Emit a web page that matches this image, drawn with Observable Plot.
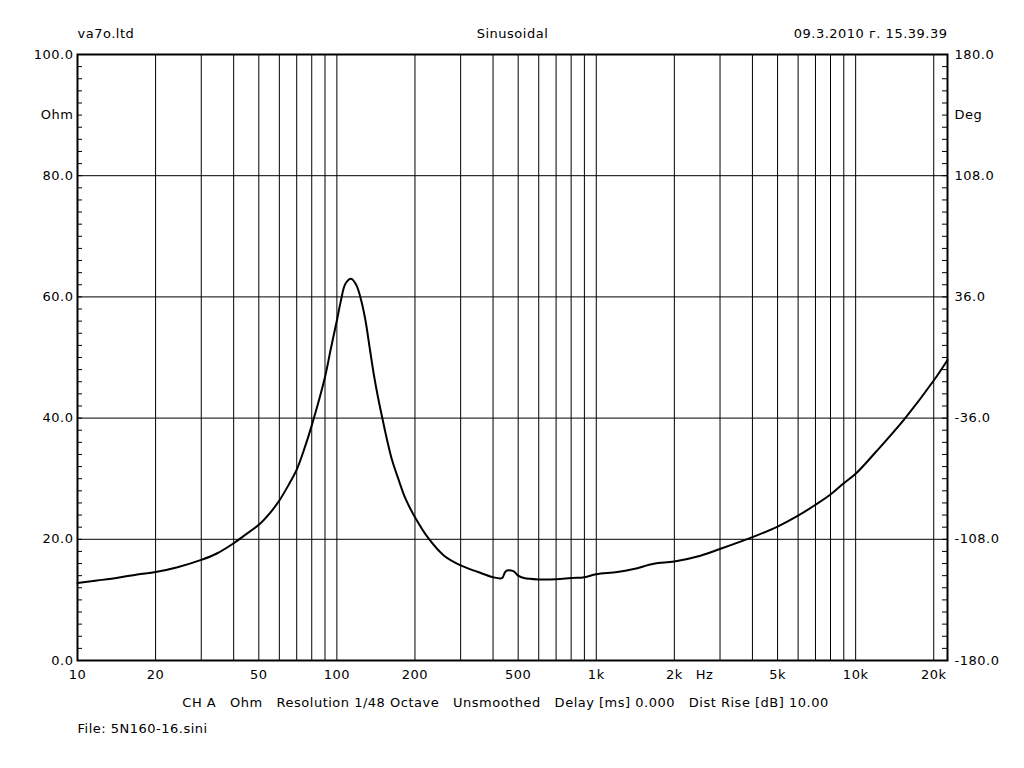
<!DOCTYPE html>
<html><head><meta charset="utf-8">
<script src="https://cdn.jsdelivr.net/npm/d3@7"></script>
<script src="https://cdn.jsdelivr.net/npm/@observablehq/plot@0.6"></script>
<style>
body{margin:0;background:#fff;}
svg text{white-space:pre;letter-spacing:0.5px;}
</style></head><body><div id="chart"></div>
<script>
const freqHz = [10, 11.9, 14.3, 17, 20, 24.3, 30, 34.6, 40, 43.9, 50, 55.6, 60, 65, 70, 75, 80, 90, 94.5, 100, 103.3, 108, 113.5, 119, 124.1, 128.9, 134, 138.8, 143.8, 149.5, 156.3, 163.4, 173.4, 183.9, 200, 226, 259, 300, 350, 400, 433, 445, 453, 470, 481, 492, 500, 526, 600, 700, 800, 900, 1000, 1204, 1395, 1666, 2000, 2522, 3000, 4000, 5000, 6000, 7000, 8000, 9000, 10000, 12100, 15560, 20000, 22600];
const impedanceOhm = [12.8, 13.2, 13.65, 14.2, 14.6, 15.4, 16.6, 17.7, 19.35, 20.6, 22.4, 24.5, 26.4, 28.9, 31.5, 35.0, 38.8, 46.8, 51.2, 56.1, 59.1, 62.2, 63.0, 61.9, 59.4, 56.1, 51.4, 47.2, 43.6, 40.1, 36.3, 33.0, 29.7, 26.7, 23.65, 20.1, 17.3, 15.7, 14.6, 13.75, 13.6, 14.6, 14.85, 14.85, 14.7, 14.3, 14.0, 13.6, 13.37, 13.4, 13.6, 13.75, 14.25, 14.6, 15.1, 15.95, 16.35, 17.3, 18.4, 20.35, 22.1, 23.9, 25.7, 27.4, 29.25, 30.8, 34.65, 40.05, 46.2, 49.6];
const gridFreqs = [20,30,40,50,60,70,80,90,100,200,300,400,500,600,700,800,900,1000,2000,3000,4000,5000,6000,7000,8000,9000,10000,20000];
const xTickValues = [10,20,50,100,200,500,1000,2000,2614,5000,10000,20000];
const xTickLabels = ["10","20","50","100","200","500","1k","2k","Hz","5k","10k","20k"];
const yTickValues = [0,20,40,60,80,100];
const yUnitPosition = 90;
const leftUnit = "Ohm";
const rightUnit = "Deg";
const hGrid = [20,40,60,80];
const minorTicks = d3.range(0, 101, 2);
const headerLeft = "va7o.ltd";
const headerCenter = "Sinusoidal";
const headerRight = "09.3.2010 г. 15.39.39";
const footerInfo = "CH A   Ohm   Resolution 1/48 Octave   Unsmoothed   Delay [ms] 0.000   Dist Rise [dB] 10.00";
const footerFile = "File: 5N160-16.sini";

const data = freqHz.map((f, i) => ({f, z: impedanceOhm[i]}));
const xLabels = xTickValues.map((v, i) => ({v, label: xTickLabels[i]}));

const plot = Plot.plot({
  width: 1024, height: 768,
  marginLeft: 77, marginRight: 77, marginTop: 54, marginBottom: 108,
  style: {fontFamily: "DejaVu Sans", fontSize: "13px", background: "white", color: "black"},
  x: {type: "log", domain: [10, 22600], axis: null},
  y: {domain: [0, 100]},
  marks: [
    Plot.ruleX(gridFreqs, {stroke: "black", strokeWidth: 1}),
    Plot.ruleY(hGrid, {stroke: "black", strokeWidth: 1}),
    Plot.tickY(minorTicks, {y: d => d, insetRight: 865, stroke: "black"}),
    Plot.tickY(minorTicks, {y: d => d, insetLeft: 865, stroke: "black"}),
    Plot.line(data, {x: "f", y: "z", stroke: "black", strokeWidth: 2, curve: "catmull-rom"}),
    Plot.frame({stroke: "black", strokeWidth: 2}),
    Plot.text(xLabels, {x: "v", text: "label", frameAnchor: "bottom", dy: 18, fill: "black"}),
    Plot.axisY({anchor: "left", ticks: [...yTickValues, yUnitPosition], tickFormat: d => d === yUnitPosition ? leftUnit : d.toFixed(1), tickSize: 0, tickPadding: 4, label: null}),
    Plot.axisY({anchor: "right", ticks: [...yTickValues, yUnitPosition], tickFormat: d => d === yUnitPosition ? rightUnit : (d * 3.6 - 180).toFixed(1), tickSize: 0, tickPadding: 7, label: null}),
    Plot.text([headerLeft], {text: d => d, frameAnchor: "top-left", textAnchor: "start", dy: -26}),
    Plot.text([headerCenter], {text: d => d, frameAnchor: "top", dy: -26}),
    Plot.text([headerRight], {text: d => d, frameAnchor: "top-right", textAnchor: "end", dy: -26}),
    Plot.text([footerInfo], {text: d => d, frameAnchor: "bottom", dx: -7, dy: 46}),
    Plot.text([footerFile], {text: d => d, frameAnchor: "bottom-left", textAnchor: "start", dy: 72})
  ]
});
document.getElementById("chart").appendChild(plot);
</script></body></html>
